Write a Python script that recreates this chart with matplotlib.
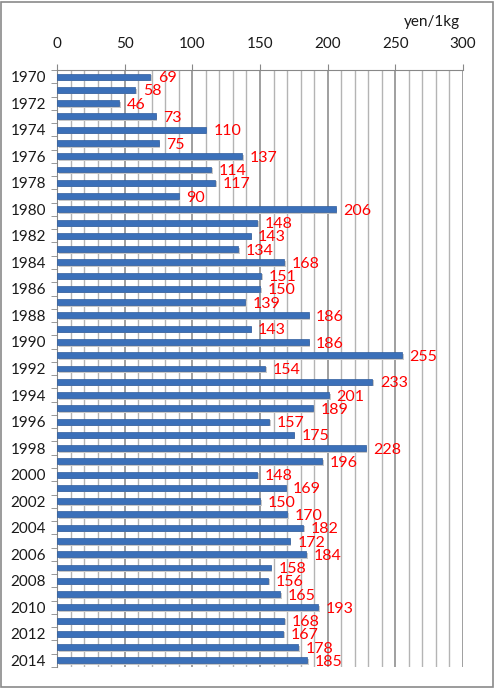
import matplotlib
matplotlib.use("Agg")
import matplotlib.pyplot as plt
from matplotlib.patches import Rectangle
import numpy as np

plt.rcParams['font.family'] = ['Lato', 'DejaVu Sans']

# 年ごとの価格 (yen/1kg)
years = list(range(1970, 2015))
prices = [69, 58, 46, 73, 110, 75, 137, 114, 117, 90,
          206, 148, 143, 134, 168, 151, 150, 139, 186, 143,
          186, 255, 154, 233, 201, 189, 157, 175, 228, 196,
          148, 169, 150, 170, 182, 172, 184, 158, 156, 165,
          193, 168, 167, 178, 185]

BAR_BLUE = '#3B70B9'
LABEL_RED = '#FF0000'

fig = plt.figure(figsize=(4.94, 6.89), dpi=100)
fig.patches.append(Rectangle((0.003, 0.003), 0.994, 0.994, transform=fig.transFigure,
                             fill=False, edgecolor='#8a8a8a', linewidth=1.2))

ax = fig.add_axes([57/494, 22/689, 406/494, 597/689])
y = np.arange(len(years))

ax.set_xlim(0, 300)
ax.set_ylim(len(years) - 0.5, -0.5)

ax.xaxis.tick_top()
ax.set_xticks(np.arange(0, 301, 50))
ax.set_xticks(np.arange(0, 301, 10), minor=True)
ax.tick_params(axis='x', which='major', length=4, color='#888888', labelsize=11,
               labelcolor='#1a1a1a', pad=10)
ax.tick_params(axis='x', which='minor', length=0)

# griglia: secondaria ogni 10, principale ogni 50
ax.vlines(ax.get_xticks(minor=True), -0.5, len(years) - 0.5,
          color='#b4b4b4', linewidth=1.0, zorder=0)
ax.vlines(ax.get_xticks(), -0.5, len(years) - 0.5,
          color='#858585', linewidth=1.1, zorder=1)

# ombra sotto le barre
ax.barh(y + 0.12, prices, height=0.45, left=1.2, color='#c8c8c8', zorder=2)
ax.barh(y, prices, height=0.45, color=BAR_BLUE, edgecolor='#2f5d9e', linewidth=0.5, zorder=3)

for yi, v in zip(y, prices):
    ax.text(v + 5.5, yi + 0.12, str(v), color=LABEL_RED, fontsize=11.5,
            va='center', ha='left', zorder=4)

ax.set_yticks(y[::2])
ax.set_yticklabels([str(v) for v in years[::2]])
ax.set_yticks(np.arange(-0.5, len(years), 1), minor=True)
ax.tick_params(axis='y', which='major', length=0, labelsize=11, labelcolor='#1a1a1a', pad=8)
ax.tick_params(axis='y', which='minor', length=4, color='#888888')

for s in ['right', 'bottom']:
    ax.spines[s].set_visible(False)
ax.spines['top'].set_color('#888888')
ax.spines['left'].set_color('#888888')

fig.text(432/494, 1 - 22/689, 'yen/1kg', fontsize=11, ha='center', va='center', color='#1a1a1a')

fig.savefig('out.png', dpi=100)
